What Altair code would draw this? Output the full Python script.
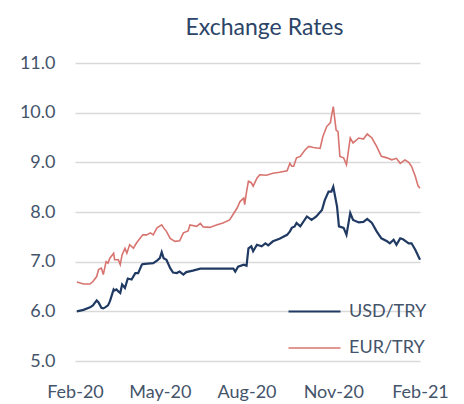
import altair as alt
import pandas as pd

usd_dates = ["2020-02-03","2020-02-10","2020-02-17","2020-02-20","2020-02-24","2020-02-26","2020-02-29",
    "2020-03-02","2020-03-04","2020-03-07","2020-03-09","2020-03-13","2020-03-14","2020-03-16","2020-03-18",
    "2020-03-20","2020-03-22","2020-03-25","2020-03-28","2020-04-01","2020-04-05","2020-04-08","2020-04-12",
    "2020-04-13","2020-04-18","2020-04-24","2020-04-28","2020-05-01","2020-05-03","2020-05-05","2020-05-08",
    "2020-05-12","2020-05-15","2020-05-19","2020-05-22","2020-05-26","2020-05-29","2020-06-05","2020-06-13",
    "2020-06-25","2020-07-05","2020-07-18","2020-07-20","2020-07-23","2020-07-29","2020-08-01","2020-08-03",
    "2020-08-06","2020-08-08","2020-08-12","2020-08-17","2020-08-21","2020-08-24","2020-08-29","2020-09-05",
    "2020-09-13","2020-09-16","2020-09-18","2020-09-21","2020-09-23","2020-09-27","2020-10-04","2020-10-09",
    "2020-10-14","2020-10-20","2020-10-23","2020-10-27","2020-10-30","2020-11-01","2020-11-05","2020-11-07",
    "2020-11-12","2020-11-15","2020-11-19","2020-11-22","2020-11-28","2020-12-03","2020-12-07","2020-12-12",
    "2020-12-17","2020-12-22","2020-12-28","2020-12-31","2021-01-04","2021-01-07","2021-01-11","2021-01-14",
    "2021-01-20","2021-01-23","2021-01-27","2021-02-01"]
usd_values = [6.00,6.03,6.08,6.12,6.22,6.18,6.07,
    6.06,6.08,6.12,6.20,6.44,6.42,6.44,6.40,
    6.37,6.54,6.47,6.66,6.64,6.77,6.77,6.94,
    6.95,6.96,6.97,7.02,7.07,7.19,7.07,7.04,
    6.87,6.78,6.77,6.80,6.74,6.79,6.82,6.86,
    6.86,6.86,6.86,6.80,6.90,6.94,6.92,7.27,
    7.31,7.21,7.34,7.31,7.37,7.33,7.41,7.46,
    7.54,7.61,7.68,7.71,7.78,7.71,7.91,7.84,
    7.91,8.04,8.24,8.41,8.41,8.51,8.11,7.71,
    7.68,7.54,7.98,7.84,7.79,7.80,7.86,7.78,
    7.61,7.47,7.41,7.37,7.44,7.34,7.47,7.45,
    7.37,7.37,7.24,7.04]

eur_dates = ["2020-02-03","2020-02-10","2020-02-17","2020-02-20","2020-02-24","2020-02-26","2020-02-29",
    "2020-03-02","2020-03-05","2020-03-07","2020-03-09","2020-03-13","2020-03-14","2020-03-18","2020-03-20",
    "2020-03-22","2020-03-25","2020-03-27","2020-03-30","2020-04-03","2020-04-06","2020-04-10","2020-04-13",
    "2020-04-17","2020-04-21","2020-04-24","2020-04-28","2020-05-03","2020-05-05","2020-05-08","2020-05-12",
    "2020-05-17","2020-05-22","2020-05-26","2020-05-31","2020-06-02","2020-06-09","2020-06-13","2020-06-16",
    "2020-06-23","2020-06-30","2020-07-07","2020-07-14","2020-07-18","2020-07-22","2020-07-25","2020-07-29",
    "2020-07-30","2020-08-01","2020-08-03","2020-08-06","2020-08-08","2020-08-12","2020-08-15","2020-08-22",
    "2020-08-29","2020-09-05","2020-09-13","2020-09-16","2020-09-18","2020-09-20","2020-09-23","2020-09-27",
    "2020-10-02","2020-10-06","2020-10-11","2020-10-18","2020-10-21","2020-10-25","2020-10-29","2020-10-30",
    "2020-11-01","2020-11-04","2020-11-06","2020-11-08","2020-11-12","2020-11-15","2020-11-19","2020-11-22",
    "2020-11-28","2020-12-03","2020-12-07","2020-12-12","2020-12-17","2020-12-22","2020-12-28","2021-01-02",
    "2021-01-07","2021-01-11","2021-01-16","2021-01-20","2021-01-23","2021-01-27","2021-01-30","2021-02-01"]
eur_values = [6.59,6.55,6.55,6.60,6.70,6.84,6.87,
    6.74,7.00,6.97,7.07,7.17,7.04,7.04,6.94,
    7.14,7.27,7.17,7.34,7.27,7.37,7.47,7.54,
    7.54,7.58,7.54,7.68,7.74,7.68,7.61,7.47,
    7.41,7.42,7.58,7.62,7.74,7.71,7.77,7.70,
    7.69,7.74,7.78,7.84,7.96,8.08,8.21,8.28,
    8.15,8.41,8.62,8.59,8.52,8.68,8.75,8.74,
    8.78,8.80,8.83,8.98,8.92,8.92,9.09,9.12,
    9.25,9.32,9.30,9.28,9.52,9.72,9.80,9.92,
    10.12,9.65,9.62,9.12,9.09,8.95,9.49,9.39,
    9.49,9.47,9.57,9.49,9.32,9.12,9.09,9.05,
    9.08,8.98,9.05,9.00,8.92,8.72,8.52,8.48]

series_names = ["USD/TRY", "EUR/TRY"]
series_colors = ["#203A63", "#D8746F"]
tick_labels = ["2020-02-01", "2020-05-01", "2020-08-01", "2020-11-01", "2021-02-01"]

df = pd.concat([
    pd.DataFrame({"date": [d + "T00:00:00" for d in usd_dates], "rate": usd_values, "series": series_names[0]}),
    pd.DataFrame({"date": [d + "T00:00:00" for d in eur_dates], "rate": eur_values, "series": series_names[1]}),
])

def dt(s):
    y, m, d = (int(v) for v in s.split("-"))
    return alt.DateTime(year=y, month=m, date=d)

label_color = "#44546A"
font = "Lato"

chart = alt.Chart(df).mark_line(interpolate="linear").encode(
    x=alt.X("date:T",
            scale=alt.Scale(domain=[dt(tick_labels[0]), dt(tick_labels[-1])], nice=False),
            axis=alt.Axis(title=None, values=[dt(t) for t in tick_labels], format="%b-%y",
                          grid=False, domain=False, ticks=False, labelFont=font, labelFontSize=18,
                          labelColor=label_color, labelPadding=22, labelOverlap=False, labelFlush=False)),
    y=alt.Y("rate:Q",
            scale=alt.Scale(domain=[5, 11], nice=False, zero=False),
            axis=alt.Axis(title=None, values=[5, 6, 7, 8, 9, 10, 11], format=".1f",
                          grid=True, gridColor="#D9D9D9", gridWidth=1.3, domain=False, ticks=False,
                          labelFont=font, labelFontSize=18, labelColor=label_color, labelPadding=20)),
    color=alt.Color("series:N",
                    scale=alt.Scale(domain=series_names, range=series_colors),
                    legend=alt.Legend(title=None, orient="none", legendX=212, legendY=221,
                                      symbolType="stroke", symbolSize=2704, symbolStrokeWidth=2,
                                      labelFont=font, labelFontSize=18, labelColor=label_color,
                                      labelOffset=7, rowPadding=-8, padding=0)),
    strokeWidth=alt.StrokeWidth("series:N",
                                scale=alt.Scale(domain=series_names, range=[2.2, 1.6]),
                                legend=None),
    order=alt.Order("series:N", sort="descending"),
).properties(
    width=345, height=298,
    title=alt.TitleParams("Exchange Rates", font=font, fontSize=23, fontWeight="normal",
                          color="#2B4468", anchor="middle", dx=17, offset=14),
    autosize=alt.AutoSizeParams(type="none"),
    padding={"left": 67, "top": 55, "right": 36, "bottom": 41},
).configure_view(stroke=None)

chart.save("out.html", embed_options={"renderer": "svg", "actions": False})
